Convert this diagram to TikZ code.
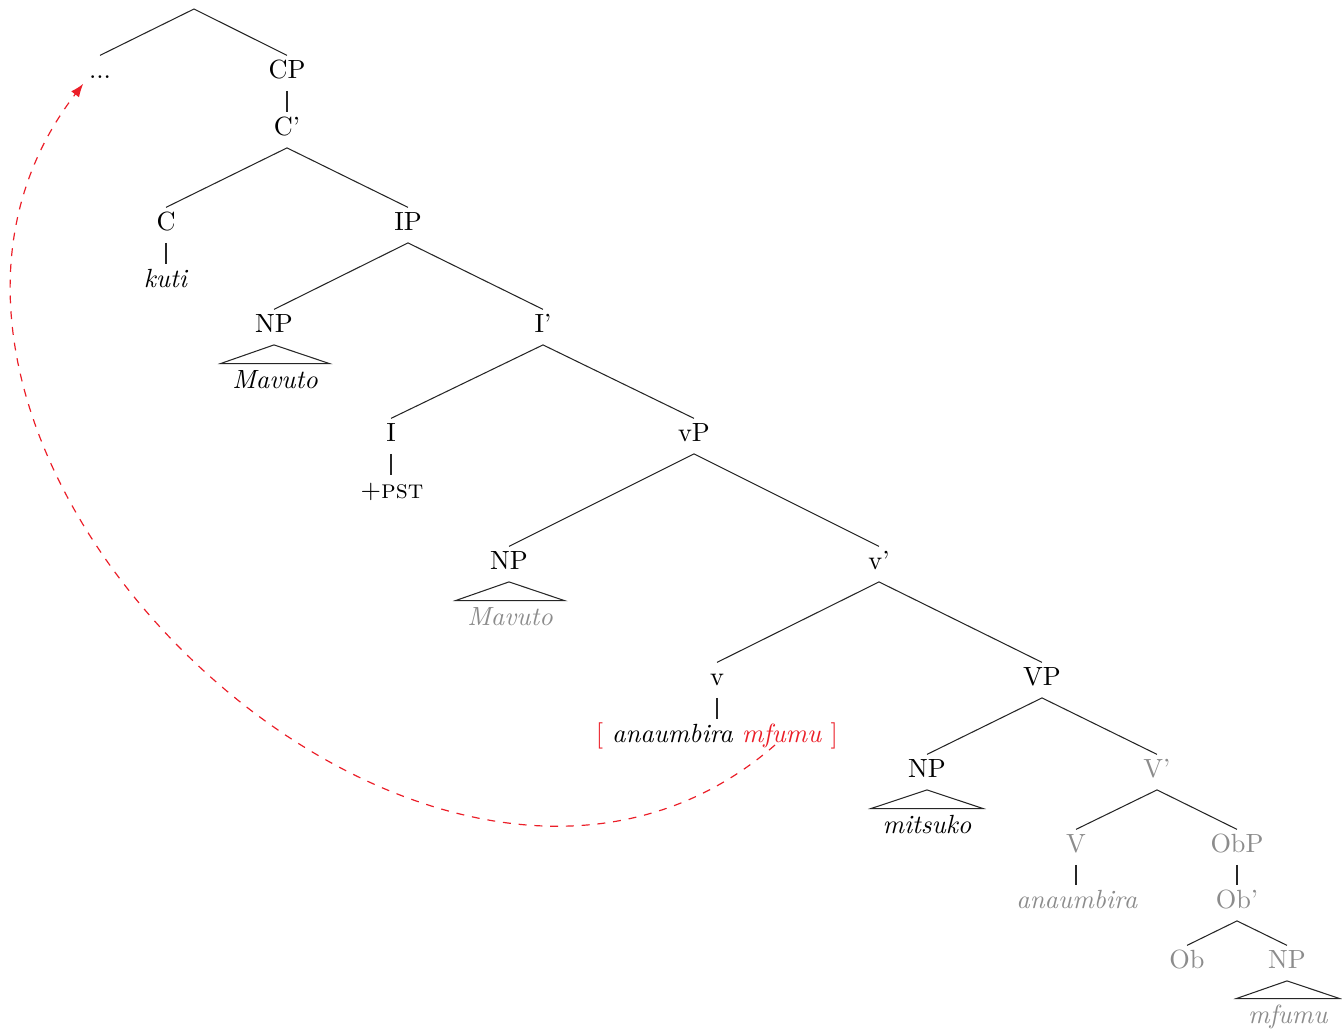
\documentclass[tikz,border=0pt]{standalone}
\usetikzlibrary{arrows.meta,calc}
\definecolor{trace}{gray}{0.55}
\definecolor{movered}{RGB}{235,30,40}
\begin{document}
\begin{tikzpicture}[x=0.38pt,y=-0.38pt,
  lab/.style={anchor=base,inner xsep=2pt,inner ysep=0pt,text height=8.4pt,text depth=4.7pt},
  tri/.style={anchor=base,inner xsep=4.2pt,inner ysep=0pt,text height=9.1pt,text depth=0pt},
  branch/.style={line width=0.4pt,black!85},
  ghost/.style={text=trace}]
\useasboundingbox (0,0) rectangle (1342,1032);
% nodes
\coordinate (root) at (194,9);
\node[lab] (dots) at (100,78) {...};
\node[lab] (CP) at (287,78) {CP};
\node[lab] (Cbar) at (287,135) {C'};
\node[lab] (C) at (166,230) {C};
\node[lab] (kuti) at (166,287) {\textit{kuti}};
\node[lab] (IP) at (408,230) {IP};
\node[lab] (NPa) at (274,332) {NP};
\node[tri] (Ma) at (275,388) {\textit{Mavuto}};
\node[lab] (Ibar) at (543,332) {I'};
\node[lab] (I) at (391,441) {I};
\node[lab] (pst) at (392,498) {+\textsc{pst}};
\node[lab] (vP) at (694,441) {vP};
\node[lab] (NPb) at (509,569) {NP};
\node[tri,ghost] (Mb) at (510,625) {\textit{Mavuto}};
\node[lab] (vbar) at (879,569) {v'};
\node[lab] (v) at (717,685) {v};
\node[lab] (cplx) at (717,742) {{\color{movered}[} \textit{anaumbira} {\color{movered}\textit{mfumu}} {\color{movered}]}};
\node[lab] (VP) at (1042,685) {VP};
\node[lab] (NPc) at (927,777) {NP};
\node[tri] (mits) at (927,833) {\textit{mitsuko}};
\node[lab,ghost] (Vbar) at (1157,777) {V'};
\node[lab,ghost] (V) at (1076,852) {V};
\node[lab,ghost] (anau) at (1077,908) {\textit{anaumbira}};
\node[lab,ghost] (ObP) at (1237,852) {ObP};
\node[lab,ghost] (Obbar) at (1237,908) {Ob'};
\node[lab,ghost] (Ob) at (1187,968) {Ob};
\node[lab,ghost] (NPd) at (1287,968) {NP};
\node[tri,ghost] (mf) at (1288,1023) {\textit{mfumu}};
% branches
\draw[branch] (dots.north) -- (root) -- (CP.north);
\draw[branch] (CP.south) -- (Cbar.north);
\draw[branch] (C.north) -- (Cbar.south) -- (IP.north);
\draw[branch] (C.south) -- (C.south |- kuti.north);
\draw[branch] (NPa.north) -- (IP.south) -- (Ibar.north);
\draw[branch] (NPa.south) -- (Ma.north west) -- (Ma.north east) -- cycle;
\draw[branch] (I.north) -- (Ibar.south) -- (vP.north);
\draw[branch] (I.south) -- (I.south |- pst.north);
\draw[branch] (NPb.north) -- (vP.south) -- (vbar.north);
\draw[branch] (NPb.south) -- (Mb.north west) -- (Mb.north east) -- cycle;
\draw[branch] (v.north) -- (vbar.south) -- (VP.north);
\draw[branch] (v.south) -- (v.south |- cplx.north);
\draw[branch] (NPc.north) -- (VP.south) -- (Vbar.north);
\draw[branch] (NPc.south) -- (mits.north west) -- (mits.north east) -- cycle;
\draw[branch] (V.north) -- (Vbar.south) -- (ObP.north);
\draw[branch] (V.south) -- (V.south |- anau.north);
\draw[branch] (ObP.south) -- (ObP.south |- Obbar.north);
\draw[branch] (Ob.north) -- (Obbar.south) -- (NPd.north);
\draw[branch] (NPd.south) -- (mf.north west) -- (mf.north east) -- cycle;
% movement arrow
\coordinate (arrstart) at (775,745);
\coordinate (arrend) at ($(dots.west)!0.6!(dots.south west)$);
\draw[movered,dashed,line width=0.45pt,-{Latex}] (arrstart) .. controls (430,1045) and (-193,443) .. (arrend);
\end{tikzpicture}
\end{document}
